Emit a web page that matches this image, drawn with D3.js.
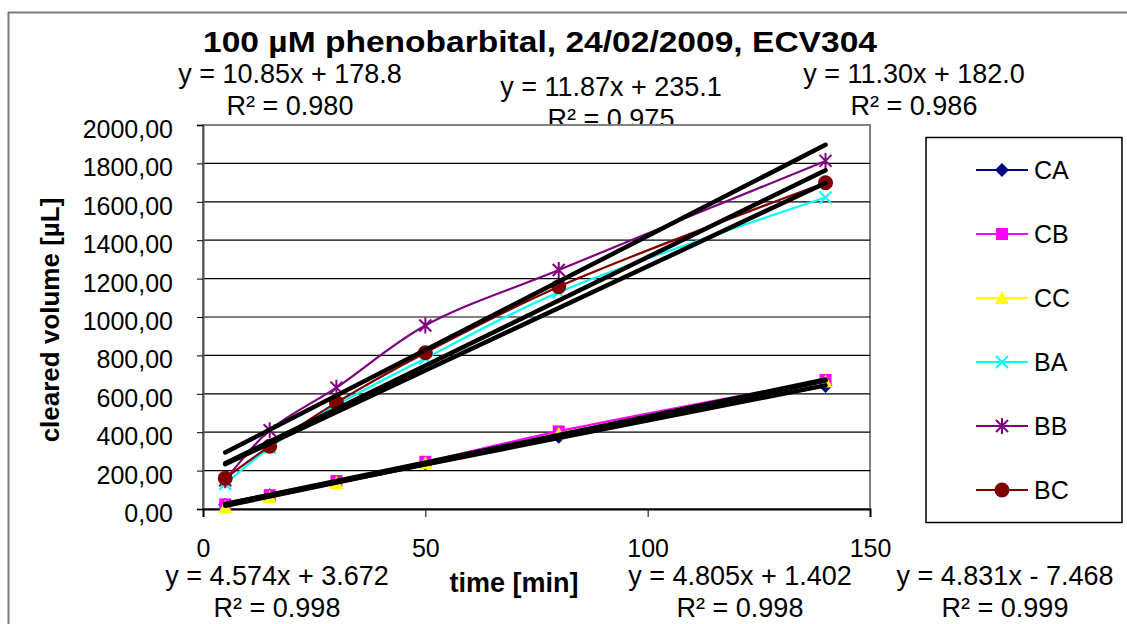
<!DOCTYPE html>
<html>
<head>
<meta charset="utf-8">
<script src="https://cdnjs.cloudflare.com/ajax/libs/d3/7.8.5/d3.min.js"></script>
<style>
  body { margin: 0; background: #fff; }
  text { font-family: "Liberation Sans", Arial, sans-serif; }
</style>
</head>
<body>
<div id="chart"></div>
<script>
// data
var timeMin = [5, 15, 30, 50, 80, 140];
var seriesNames = ["CA", "CB", "CC", "BA", "BB", "BC"];
var caValues = [22, 72, 140, 236, 376, 640];
var cbValues = [24, 72, 146, 246, 404, 672];
var ccValues = [10, 62, 135, 238, 392, 664];
var baValues = [130, 320, 540, 784, 1129, 1622];
var bbValues = [150, 410, 632, 956, 1245, 1813];
var bcValues = [160, 327, 554, 814, 1158, 1699];
var trendSlopes = [4.574, 4.805, 4.831, 10.85, 11.87, 11.30];
var trendIntercepts = [3.672, 1.402, -7.468, 178.8, 235.1, 182.0];
var trendR2 = [0.998, 0.998, 0.999, 0.980, 0.975, 0.986];
var yTicks = [0, 200, 400, 600, 800, 1000, 1200, 1400, 1600, 1800, 2000];
var xTicks = [0, 50, 100, 150];

var seriesValues = [caValues, cbValues, ccValues, baValues, bbValues, bcValues];
var colors = ["#000080", "#ff00ff", "#ffff00", "#00ffff", "#800080", "#800000"];

// where each trendline label sits (center x, baseline of equation)
var labelPos = [[277, 585], [740, 585], [1005, 585], [290, 83], [611, 96], [914, 83]];

var W = 1127, H = 624;
var plot = {left: 203, top: 125, right: 870, bottom: 509};

var svg = d3.select("#chart").append("svg")
  .attr("width", W).attr("height", H);

svg.append("rect").attr("width", W).attr("height", H).attr("fill", "#fff");

// chart area border (cut off at right / bottom)
svg.append("path")
  .attr("d", "M8.5," + H + "V12.5H" + W)
  .attr("fill", "none").attr("stroke", "#7a7a7a").attr("stroke-width", 2);

var x = d3.scaleLinear().domain([0, 150]).range([plot.left, plot.right]);
var y = d3.scaleLinear().domain([0, 2000]).range([plot.bottom, plot.top]);

// title
svg.append("text")
  .attr("x", 203).attr("y", 52)
  .attr("font-size", 30).attr("font-weight", "bold")
  .attr("textLength", 674).attr("lengthAdjust", "spacingAndGlyphs")
  .text("100 µM phenobarbital, 24/02/2009, ECV304");

// trendline equations
var fmt = d3.format(".4r");
seriesNames.forEach(function(name, i) {
  var b = trendIntercepts[i];
  var eq = "y = " + fmt(trendSlopes[i]) + "x " + (b < 0 ? "- " : "+ ") + fmt(Math.abs(b));
  svg.append("text")
    .attr("x", labelPos[i][0]).attr("y", labelPos[i][1])
    .attr("text-anchor", "middle").attr("font-size", 27)
    .text(eq);
  svg.append("text")
    .attr("x", labelPos[i][0]).attr("y", labelPos[i][1] + 32)
    .attr("text-anchor", "middle").attr("font-size", 27)
    .text("R² = " + d3.format(".3f")(trendR2[i]));
});

// plot area
svg.append("rect")
  .attr("x", plot.left).attr("y", plot.top)
  .attr("width", plot.right - plot.left).attr("height", plot.bottom - plot.top)
  .attr("fill", "#fff").attr("stroke", "#808080").attr("stroke-width", 2);

// gridlines
svg.append("g")
  .selectAll("line")
  .data(yTicks.slice(1, -1))
  .enter().append("line")
    .attr("x1", plot.left).attr("x2", plot.right)
    .attr("y1", function(d) { return y(d); })
    .attr("y2", function(d) { return y(d); })
    .attr("stroke", "#000").attr("stroke-width", 1.2);

// axes
var yAxis = svg.append("g")
  .attr("transform", "translate(" + plot.left + ",0)")
  .call(d3.axisLeft(y).tickValues(yTicks).tickSize(6).tickPadding(24)
    .tickFormat(function(d) { return d3.format(".2f")(d).replace(".", ","); }));
yAxis.select(".domain").attr("stroke", "#555").attr("stroke-width", 2);
yAxis.selectAll("text").attr("font-size", 25).attr("dy", "0.5em")
  .attr("font-family", "Liberation Sans, Arial, sans-serif").attr("fill", "#000");

var xAxis = svg.append("g")
  .attr("transform", "translate(0," + plot.bottom + ")")
  .call(d3.axisBottom(x).tickValues(xTicks).tickSize(8).tickPadding(22));
xAxis.select(".domain").attr("stroke", "#000").attr("stroke-width", 2);
xAxis.selectAll("text").attr("font-size", 25)
  .attr("font-family", "Liberation Sans, Arial, sans-serif").attr("fill", "#000");

// axis titles
svg.append("text")
  .attr("x", 514).attr("y", 592)
  .attr("text-anchor", "middle").attr("font-size", 27).attr("font-weight", "bold")
  .text("time [min]");
svg.append("text")
  .attr("transform", "translate(59,320) rotate(-90)")
  .attr("text-anchor", "middle").attr("font-size", 26).attr("font-weight", "bold")
  .text("cleared volume [µL]");

// marker shapes
function marker(g, i, cx, cy) {
  var c = colors[i];
  if (i === 0) {
    g.append("path").attr("d", "M" + cx + "," + (cy - 7) + "L" + (cx + 7) + "," + cy + "L" + cx + "," + (cy + 7) + "L" + (cx - 7) + "," + cy + "Z").attr("fill", c);
  } else if (i === 1) {
    g.append("rect").attr("x", cx - 6).attr("y", cy - 6).attr("width", 12).attr("height", 12).attr("fill", c);
  } else if (i === 2) {
    g.append("path").attr("d", "M" + cx + "," + (cy - 7) + "L" + (cx + 7) + "," + (cy + 6) + "L" + (cx - 7) + "," + (cy + 6) + "Z").attr("fill", c);
  } else if (i === 3) {
    g.append("path").attr("d", "M" + (cx - 6) + "," + (cy - 6) + "L" + (cx + 6) + "," + (cy + 6) + "M" + (cx + 6) + "," + (cy - 6) + "L" + (cx - 6) + "," + (cy + 6))
      .attr("stroke", c).attr("stroke-width", 2);
  } else if (i === 4) {
    g.append("path").attr("d", "M" + (cx - 6) + "," + (cy - 6) + "L" + (cx + 6) + "," + (cy + 6) + "M" + (cx + 6) + "," + (cy - 6) + "L" + (cx - 6) + "," + (cy + 6) + "M" + cx + "," + (cy - 8) + "L" + cx + "," + (cy + 8))
      .attr("stroke", c).attr("stroke-width", 2);
  } else {
    g.append("circle").attr("cx", cx).attr("cy", cy).attr("r", 7.5).attr("fill", c);
  }
}

// series
var line = d3.line()
  .x(function(d) { return x(d[0]); })
  .y(function(d) { return y(d[1]); })
  .curve(d3.curveCatmullRom.alpha(0.5));

var seriesG = svg.append("g");
seriesValues.forEach(function(vals, i) {
  var pts = timeMin.map(function(t, k) { return [t, vals[k]]; });
  seriesG.append("path").datum(pts)
    .attr("d", line).attr("fill", "none")
    .attr("stroke", colors[i]).attr("stroke-width", 2.2);
  var mg = seriesG.append("g");
  pts.forEach(function(p) { marker(mg, i, x(p[0]), y(p[1])); });
});

// linear trendlines
var trendG = svg.append("g");
seriesNames.forEach(function(name, i) {
  var x0 = d3.min(timeMin), x1 = d3.max(timeMin);
  trendG.append("line")
    .attr("x1", x(x0)).attr("y1", y(trendSlopes[i] * x0 + trendIntercepts[i]))
    .attr("x2", x(x1)).attr("y2", y(trendSlopes[i] * x1 + trendIntercepts[i]))
    .attr("stroke", "#000").attr("stroke-width", 4.5).attr("stroke-linecap", "round");
});

// legend
var legend = svg.append("g");
legend.append("rect")
  .attr("x", 926).attr("y", 137.5).attr("width", 196).attr("height", 385)
  .attr("fill", "#fff").attr("stroke", "#000").attr("stroke-width", 1.5);
seriesNames.forEach(function(name, i) {
  var ly = 170 + i * 64;
  legend.append("line")
    .attr("x1", 976).attr("x2", 1028).attr("y1", ly).attr("y2", ly)
    .attr("stroke", colors[i]).attr("stroke-width", 2.2);
  marker(legend, i, 1002, ly);
  legend.append("text")
    .attr("x", 1034).attr("y", ly + 9)
    .attr("font-size", 25)
    .text(name);
});
</script>
</body>
</html>
